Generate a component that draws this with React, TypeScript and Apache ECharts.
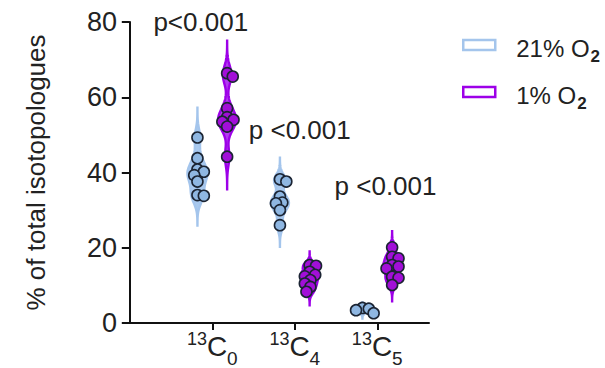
import React, { useEffect, useRef } from 'react';
import * as echarts from 'echarts';

// ---- data ----
const categorySubscripts = ['0', '4', '5']; // 13C0, 13C4, 13C5
const isotopeMass = '13';
const seriesNames = ['21% O2', '1% O2'];
const normoxia: number[][] = [
  [49.3, 43.8, 40.8, 40.2, 39.3, 37.6, 34.0, 33.8],
  [38.2, 37.6, 33.6, 32.0, 31.8, 30.0, 26.0],
  [4.0, 3.8, 3.4, 2.6],
];
const hypoxia: number[][] = [
  [66.4, 65.5, 57.1, 54.7, 54.0, 53.5, 52.2, 44.2],
  [15.4, 15.2, 13.6, 12.8, 12.4, 11.4, 10.5, 9.6, 8.3],
  [20.1, 17.6, 17.2, 15.4, 15.0, 14.5, 12.3, 12.0, 10.1],
];
const pLabels = ['p<0.001', 'p <0.001', 'p <0.001'];
const pLabelValues = [80, 51.2, 36.4];
const yTicks = [0, 20, 40, 60, 80];

// ---- style ----
const FONT = 'Liberation Sans, Arial, sans-serif';
const TEXT = '#222222';
const groups = [normoxia, hypoxia];
const bandwidths = [
  [2.2, 1.6, 0.4],
  [2.4, 1.0, 1.2],
];
const violinWidths = [
  [10, 9, 5],
  [9, 9, 9],
];
const groupOffsets = [-0.18, 0.18];
const violinFill = ['#a9c9ee', '#b23cf0'];
const violinStroke = ['#a4c5ec', '#9d00e8'];
const pointFill = ['#8fb7e2', '#a20fd8'];
const pointStroke = '#1b2433';
const labelXOffsets = [-0.14, 0.06, 0.1];

function profile(vals: number[], h: number) {
  const lo = Math.min(...vals) - 3.6 * h;
  const hi = Math.max(...vals) + 3.6 * h;
  const n = 90;
  const out: [number, number][] = [];
  let max = 0;
  for (let i = 0; i <= n; i++) {
    const y = lo + ((hi - lo) * i) / n;
    let d = 0;
    for (const v of vals) d += Math.exp(-0.5 * ((y - v) / h) ** 2);
    out.push([y, d]);
    if (d > max) max = d;
  }
  return out.map(([y, d]) => [y, d / max] as [number, number]);
}

function swarm(ys: number[], minDist: number) {
  const order = ys.map((y, i) => i).sort((a, b) => ys[a] - ys[b]);
  const placed: { x: number; y: number }[] = [];
  const xs = new Array(ys.length).fill(0);
  for (const i of order) {
    let best = 0;
    for (let k = 0; k < 80; k++) {
      const off = k === 0 ? 0 : (k % 2 === 1 ? 1 : -1) * Math.ceil(k / 2) * 0.8;
      const ok = placed.every((p) => Math.hypot(p.x - off, p.y - ys[i]) >= minDist);
      if (ok) { best = off; break; }
    }
    xs[i] = best;
    placed.push({ x: best, y: ys[i] });
  }
  return xs;
}

function makeSeries(k: number) {
  return {
    type: 'custom',
    name: seriesNames[k],
    data: groups[k].map((vals, g) => [g + 1 + groupOffsets[k], vals.reduce((a, b) => a + b, 0) / vals.length]),
    encode: { x: 0, y: 1 },
    z: 2 + k,
    renderItem: (params: any, api: any) => {
      const g = params.dataIndex;
      const vals = groups[k][g];
      const xc = g + 1 + groupOffsets[k];
      const prof = profile(vals, bandwidths[k][g]);
      const W = violinWidths[k][g];
      const left: number[][] = [];
      const right: number[][] = [];
      for (const [y, d] of prof) {
        const p = api.coord([xc, y]);
        left.push([p[0] - d * W, p[1]]);
        right.push([p[0] + d * W, p[1]]);
      }
      const poly = left.concat(right.reverse());
      const pts = vals.map((v) => api.coord([xc, v]));
      const offs = swarm(pts.map((p: number[]) => p[1]), 6.3);
      const circles = pts.map((p: number[], i: number) => ({
        type: 'circle',
        shape: { cx: p[0] + offs[i], cy: p[1], r: 5.5 },
        style: { fill: pointFill[k], stroke: pointStroke, lineWidth: 1.6 },
      }));
      return {
        type: 'group',
        children: [
          {
            type: 'polygon',
            shape: { points: poly },
            style: { fill: violinFill[k], stroke: violinStroke[k], lineWidth: 2.4 },
          },
          ...circles,
        ],
      };
    },
  };
}

export default function App() {
  const ref = useRef<HTMLDivElement>(null);
  useEffect(() => {
    if (!ref.current) return;
    const chart = echarts.init(ref.current, null, { renderer: 'svg' });
    const option: any = {
      animation: false,
      backgroundColor: '#ffffff',
      grid: { left: 126, right: 176, top: 22, bottom: 45, containLabel: false, outerBoundsMode: 'none' },
      legend: {
        orient: 'vertical',
        left: 457,
        top: 31,
        itemWidth: 32,
        itemHeight: 10,
        itemGap: 18,
        icon: 'rect',
        data: seriesNames.map((n, k) => ({
          name: n,
          icon: 'rect',
          itemStyle: { color: '#ffffff', borderColor: violinStroke[k], borderWidth: 2.5 },
        })),
        formatter: (n: string) => `{a|${n.slice(0, -1)}}{s|${n.slice(-1)}}`,
        textStyle: {
          color: TEXT,
          fontFamily: FONT,
          padding: [0, 0, 0, 16],
          rich: {
            a: { fontSize: 24, fontFamily: FONT, color: TEXT, lineHeight: 30, verticalAlign: 'bottom' },
            s: { fontSize: 17, fontWeight: 'bold', fontFamily: FONT, color: TEXT, lineHeight: 17, verticalAlign: 'bottom', padding: [0, 0, -5, 1] },
          },
        },
      },
      xAxis: {
        type: 'value',
        min: -0.046,
        max: 3.627,
        splitLine: { show: false },
        axisLine: { show: true, lineStyle: { color: '#111', width: 2 } },
        axisTick: { show: true, customValues: [1, 2, 3], length: 7, lineStyle: { color: '#111', width: 2 } },
        axisLabel: {
          customValues: [1, 2, 3],
          margin: 7,
          formatter: (v: number) => `{sup|${isotopeMass}}{c|C}{sub|${categorySubscripts[Math.round(v) - 1]}}`,
          rich: {
            sup: { fontSize: 18, fontFamily: FONT, color: TEXT, lineHeight: 16, verticalAlign: 'top' },
            c: { fontSize: 28, fontFamily: FONT, color: TEXT, lineHeight: 32, verticalAlign: 'middle' },
            sub: { fontSize: 19, fontFamily: FONT, color: TEXT, lineHeight: 16, verticalAlign: 'bottom', padding: [0, 0, -6, 0] },
          },
        },
      },
      yAxis: {
        type: 'value',
        min: 0,
        max: 80,
        interval: 20,
        name: '% of total isotopologues',
        nameLocation: 'middle',
        nameGap: 77,
        nameTextStyle: { fontSize: 26, fontFamily: FONT, color: TEXT },
        splitLine: { show: false },
        axisLine: { show: true, lineStyle: { color: '#111', width: 2 } },
        axisTick: { show: true, length: 8, lineStyle: { color: '#111', width: 2 } },
        axisLabel: {
          fontSize: 27,
          fontFamily: FONT,
          color: TEXT,
          margin: 9,
          formatter: (v: number) => (yTicks.includes(v) ? String(v) : ''),
        },
      },
      series: [
        makeSeries(0),
        makeSeries(1),
        {
          type: 'custom',
          name: 'annotations',
          data: pLabels.map((t, g) => [g + 1 + labelXOffsets[g], pLabelValues[g]]),
          encode: { x: 0, y: 1 },
          z: 5,
          renderItem: (params: any, api: any) => {
            const p = api.coord([api.value(0), api.value(1)]);
            return {
              type: 'text',
              x: p[0],
              y: p[1],
              style: {
                text: pLabels[params.dataIndex],
                fontSize: 26,
                fontFamily: FONT,
                fill: TEXT,
                align: 'center',
                verticalAlign: 'middle',
              },
            };
          },
        },
      ],
    };
    chart.setOption(option);
    return () => chart.dispose();
  }, []);
  return (
    <div
      ref={ref}
      style={{ position: 'fixed', left: 0, top: 0, width: 605, height: 368, background: '#fff' }}
    />
  );
}
